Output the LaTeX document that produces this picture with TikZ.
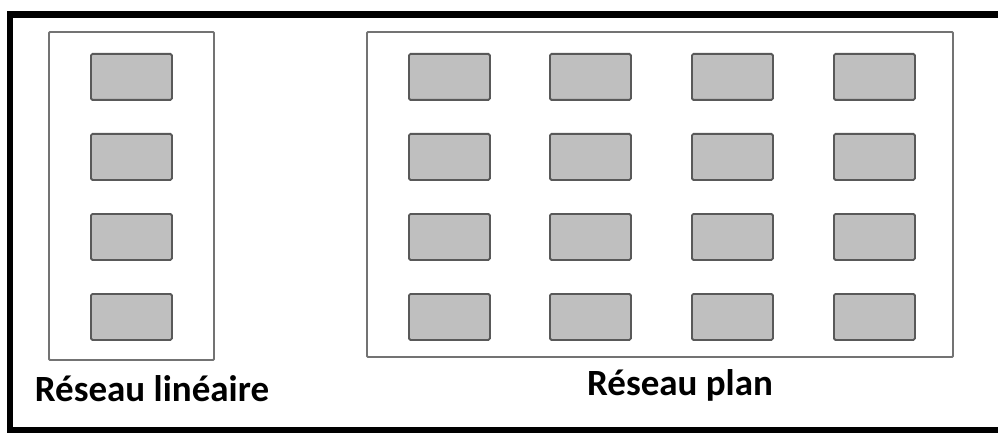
\documentclass[tikz,border=0pt]{standalone}
\usepackage{fontspec}
\setmainfont{Carlito}
\begin{document}
\begin{tikzpicture}[x=1pt,y=-1pt,
  cell/.style={draw=black!65, fill=black!25, line width=1.8pt, rounded corners=1.5pt, minimum width=81pt, minimum height=46pt, inner sep=0pt, anchor=north west},
  frame/.style={draw=black!55, line width=1.8pt, rounded corners=1pt},
  label/.style={font=\bfseries\fontsize{37}{42}\selectfont, anchor=base, inner sep=0pt}]
\useasboundingbox (0,0) rectangle (998,433);
\clip (0,0) rectangle (998,433);
\draw[line width=6.5pt] (10,14.5) rectangle (1010,430);
\draw[frame] (49,32) rectangle (214,360);
\draw[frame] (367,32) rectangle (953,357);
\foreach \r [count=\i] in {53,133,213,293}{
  \node[cell] (L\i) at (90,\r) {};
  \foreach \c [count=\j] in {408,549,691,833}{
    \node[cell] (P\i\j) at (\c,\r) {};
  }
}
\node[label] (tl) at (152,401) {Réseau linéaire};
\node[label] (tp) at (680,395) {Réseau plan};
\end{tikzpicture}
\end{document}
